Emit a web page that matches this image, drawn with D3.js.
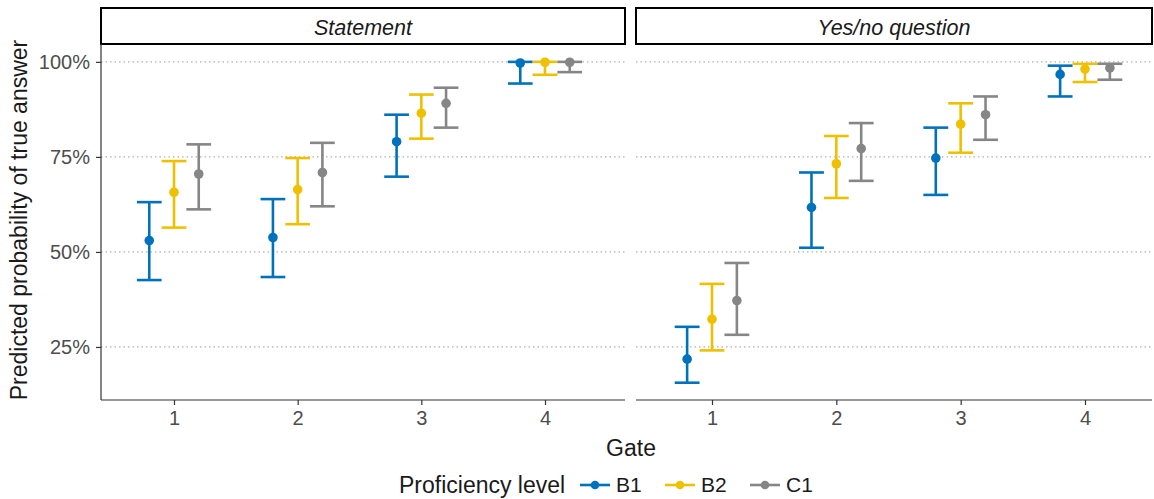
<!DOCTYPE html>
<html>
<head>
<meta charset="utf-8">
<script src="https://cdn.jsdelivr.net/npm/d3@7"></script>
<style>
  html, body { margin: 0; padding: 0; background: #fff; }
  svg { display: block; font-family: "Liberation Sans", Arial, sans-serif; }
</style>
</head>
<body>
<svg id="chart" width="1154" height="499"></svg>
<script>
// Gates on the x axis, proficiency levels as dodged groups, one facet per utterance type
const gates = [1, 2, 3, 4];
const levels = ["B1", "B2", "C1"];
const panels = ["Statement", "Yes/no question"];
const yTicks = [0.25, 0.5, 0.75, 1.0];

// Predicted probability of a true answer (estimate, lower and upper bound)
const statementB1Est = [0.530, 0.538, 0.790, 0.997];
const statementB1Lo  = [0.426, 0.434, 0.698, 0.943];
const statementB1Hi  = [0.631, 0.639, 0.861, 1.000];
const statementB2Est = [0.657, 0.664, 0.865, 0.999];
const statementB2Lo  = [0.564, 0.573, 0.798, 0.966];
const statementB2Hi  = [0.739, 0.747, 0.914, 1.000];
const statementC1Est = [0.705, 0.709, 0.891, 0.999];
const statementC1Lo  = [0.612, 0.620, 0.827, 0.973];
const statementC1Hi  = [0.783, 0.787, 0.932, 1.000];

const questionB1Est = [0.218, 0.617, 0.747, 0.967];
const questionB1Lo  = [0.156, 0.511, 0.650, 0.909];
const questionB1Hi  = [0.303, 0.709, 0.827, 0.990];
const questionB2Est = [0.323, 0.732, 0.836, 0.981];
const questionB2Lo  = [0.241, 0.642, 0.761, 0.947];
const questionB2Hi  = [0.416, 0.805, 0.891, 0.995];
const questionC1Est = [0.372, 0.772, 0.861, 0.984];
const questionC1Lo  = [0.282, 0.687, 0.795, 0.953];
const questionC1Hi  = [0.471, 0.839, 0.909, 0.995];

const series = {
  "Statement": {
    B1: [statementB1Est, statementB1Lo, statementB1Hi],
    B2: [statementB2Est, statementB2Lo, statementB2Hi],
    C1: [statementC1Est, statementC1Lo, statementC1Hi]
  },
  "Yes/no question": {
    B1: [questionB1Est, questionB1Lo, questionB1Hi],
    B2: [questionB2Est, questionB2Lo, questionB2Hi],
    C1: [questionC1Est, questionC1Lo, questionC1Hi]
  }
};

const colors = { B1: "#0072BD", B2: "#EFC000", C1: "#868686" };
const dodge = { B1: -0.2, B2: 0, C1: 0.2 };
const capHalf = 0.1;
const tickFont = 20;

const svg = d3.select("#chart");

// Panel geometry
const panelTop = 44, panelBottom = 400;
const panelBoxes = [
  { name: "Statement", x0: 101, x1: 625, t1: 174, t4: 545 },
  { name: "Yes/no question", x0: 636, x1: 1152, t1: 712, t4: 1085 }
];

const y = d3.scaleLinear().domain([0.1105, 1.047]).range([panelBottom, panelTop]);

// Horizontal dotted grid lines across each panel
panelBoxes.forEach(p => {
  svg.append("g")
    .selectAll("line")
    .data(yTicks)
    .join("line")
    .attr("x1", p.x0).attr("x2", p.x1)
    .attr("y1", d => y(d)).attr("y2", d => y(d))
    .attr("stroke", "#b0b0b0")
    .attr("stroke-width", 1.2)
    .attr("stroke-dasharray", "1.5 3");
});

panelBoxes.forEach((p, i) => {
  const x = d3.scaleLinear().domain([1, 4]).range([p.t1, p.t4]);
  const g = svg.append("g");

  // Strip label
  g.append("rect")
    .attr("x", p.x0).attr("y", 8)
    .attr("width", p.x1 - p.x0).attr("height", panelTop - 8)
    .attr("fill", "#fff").attr("stroke", "#000").attr("stroke-width", 2);
  g.append("text")
    .attr("x", (p.x0 + p.x1) / 2).attr("y", 27)
    .attr("dy", "0.35em")
    .attr("text-anchor", "middle")
    .attr("font-style", "italic")
    .attr("font-size", 21.5)
    .attr("fill", "#1a1a1a")
    .text(p.name);

  // Error bars and points per proficiency level
  levels.forEach(lv => {
    const [est, lo, hi] = series[p.name][lv];
    const rows = gates.map((gt, k) => ({ gate: gt, est: est[k], lo: lo[k], hi: hi[k] }));
    const lg = g.append("g").attr("stroke", colors[lv]).attr("stroke-width", 2.6);
    lg.selectAll(".stem").data(rows).join("line")
      .attr("x1", d => x(d.gate + dodge[lv])).attr("x2", d => x(d.gate + dodge[lv]))
      .attr("y1", d => y(d.lo)).attr("y2", d => y(d.hi));
    lg.selectAll(".capHi").data(rows).join("line")
      .attr("x1", d => x(d.gate + dodge[lv] - capHalf)).attr("x2", d => x(d.gate + dodge[lv] + capHalf))
      .attr("y1", d => y(d.hi)).attr("y2", d => y(d.hi));
    lg.selectAll(".capLo").data(rows).join("line")
      .attr("x1", d => x(d.gate + dodge[lv] - capHalf)).attr("x2", d => x(d.gate + dodge[lv] + capHalf))
      .attr("y1", d => y(d.lo)).attr("y2", d => y(d.lo));
    g.append("g").selectAll("circle").data(rows).join("circle")
      .attr("cx", d => x(d.gate + dodge[lv]))
      .attr("cy", d => y(d.est))
      .attr("r", 4.8)
      .attr("fill", colors[lv]);
  });

  // X axis
  const xAxis = g.append("g")
    .attr("transform", `translate(0,${panelBottom})`)
    .call(d3.axisBottom(x).tickValues(gates).tickFormat(d3.format("d")).tickSize(5).tickSizeOuter(0).tickPadding(6));
  xAxis.select(".domain").remove();
  xAxis.append("line")
    .attr("x1", p.x0).attr("x2", p.x1)
    .attr("stroke", "#333").attr("stroke-width", 1.2);
  xAxis.selectAll(".tick line").attr("stroke", "#333").attr("stroke-width", 1.2);
  xAxis.selectAll(".tick text").attr("font-size", tickFont).attr("fill", "#4d4d4d").attr("font-family", "Liberation Sans, Arial, sans-serif");

  // Y axis only on the first panel
  if (i === 0) {
    const yAxis = g.append("g")
      .attr("transform", `translate(${p.x0},0)`)
      .call(d3.axisLeft(y).tickValues(yTicks).tickFormat(d3.format(".0%")).tickSize(5).tickSizeOuter(0).tickPadding(6));
    yAxis.select(".domain").remove();
    yAxis.append("line")
      .attr("y1", panelTop).attr("y2", panelBottom)
      .attr("stroke", "#333").attr("stroke-width", 1.2);
    yAxis.selectAll(".tick line").attr("stroke", "#333").attr("stroke-width", 1.2);
    yAxis.selectAll(".tick text").attr("font-size", tickFont).attr("fill", "#4d4d4d").attr("font-family", "Liberation Sans, Arial, sans-serif");
  }
});

// Axis titles
svg.append("text")
  .attr("x", 631).attr("y", 448)
  .attr("dy", "0.35em")
  .attr("text-anchor", "middle")
  .attr("font-size", 23)
  .attr("fill", "#1a1a1a")
  .text("Gate");

svg.append("text")
  .attr("transform", `translate(19,${(panelTop + panelBottom) / 2 - 2}) rotate(-90)`)
  .attr("dy", "0.35em")
  .attr("text-anchor", "middle")
  .attr("font-size", 23)
  .attr("fill", "#1a1a1a")
  .text("Predicted probability of true answer");

// Legend
const legend = svg.append("g").attr("transform", "translate(0,485)");
legend.append("text")
  .attr("x", 399).attr("dy", "0.35em")
  .attr("font-size", 23).attr("fill", "#1a1a1a")
  .text("Proficiency level");

const keyX = d3.scalePoint().domain(levels).range([580, 750]);
levels.forEach(lv => {
  const kx = keyX(lv);
  const kg = legend.append("g");
  kg.append("line")
    .attr("x1", kx).attr("x2", kx + 30)
    .attr("stroke", colors[lv]).attr("stroke-width", 2.6);
  kg.append("circle").attr("cx", kx + 15).attr("r", 4.3).attr("fill", colors[lv]);
  kg.append("text")
    .attr("x", kx + 36).attr("dy", "0.35em")
    .attr("font-size", 21).attr("fill", "#1a1a1a")
    .text(lv);
});
</script>
</body>
</html>
